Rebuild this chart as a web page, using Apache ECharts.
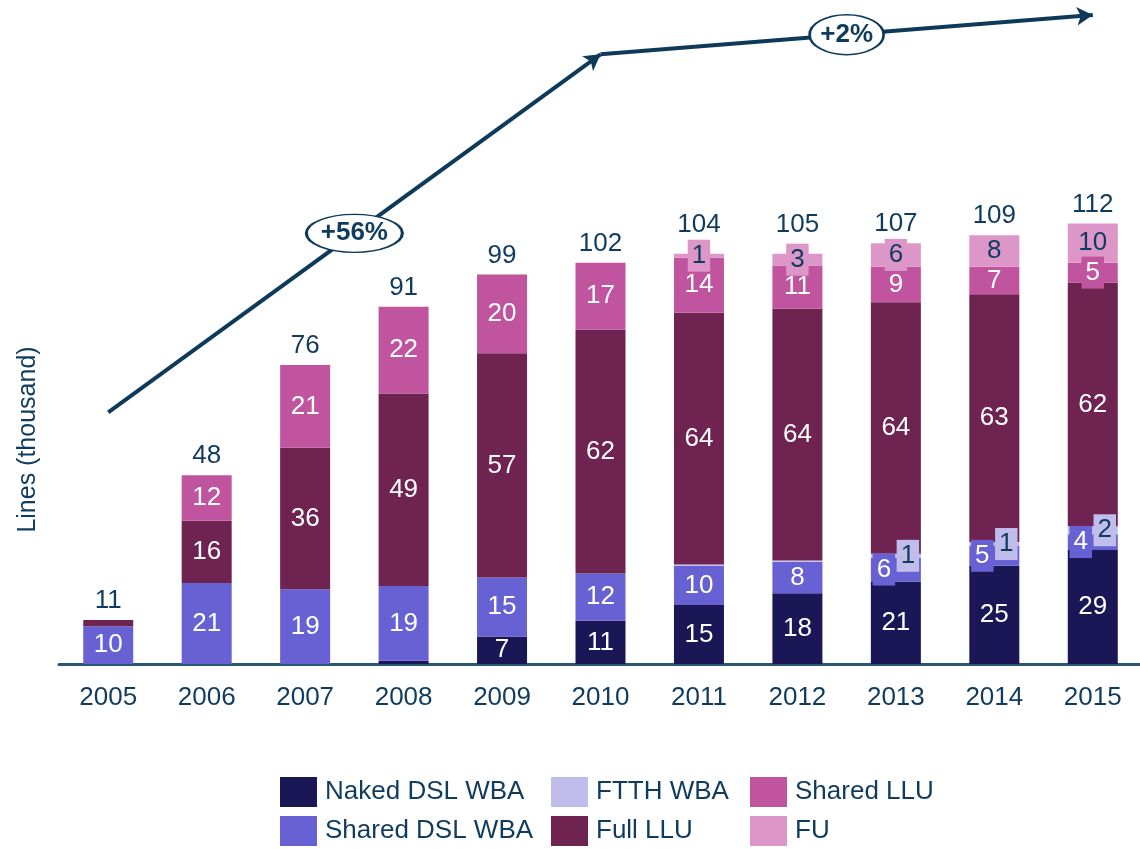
<!DOCTYPE html>
<html>
<head>
<meta charset="utf-8">
<script src="https://cdn.jsdelivr.net/npm/echarts@6/dist/echarts.min.js"></script>
<style>
  html, body { margin: 0; padding: 0; background: #fff; }
  #chart { width: 1140px; height: 849px; }
</style>
</head>
<body>
<div id="chart"></div>
<script>
// values (thousand lines)
const years = ['2005', '2006', '2007', '2008', '2009', '2010', '2011', '2012', '2013', '2014', '2015'];
const nakedDsl = [0, 0, 0, 0.8, 7, 11, 15, 18, 21, 25, 29];
const sharedDsl = [9.6, 20.6, 19, 19, 15, 12, 10, 8, 6, 5, 4];
const ftth = [0, 0, 0, 0, 0, 0, 0.3, 0.3, 1, 1, 2];
const fullLlu = [1.6, 15.8, 36, 49, 57, 62, 64, 64, 64, 63, 62];
const sharedLlu = [0, 11.6, 21, 22, 20, 17, 14, 11, 9, 7, 5];
const fu = [0, 0, 0, 0, 0, 0, 1, 3, 6, 8, 10];
const totals = [11, 48, 76, 91, 99, 102, 104, 105, 107, 109, 112];

// growth arrows (x = year index, y = thousand lines)
const trendX = [0, 5, 10];
const trendY = [64, 155, 165];
const growthX = [2.5, 7.5];
const growthY = [109.5, 160];
const growthText = ['+56%', '+2%'];

const font = 'Liberation Sans, Arial, sans-serif';
const ink = '#0f3b5e';

function barSeries(name, values, color, textColor, minLabel, offsetFn) {
  return {
    name: name,
    type: 'bar',
    stack: 'lines',
    barWidth: 50,
    itemStyle: { color: color },
    label: {
      show: true,
      position: 'inside',
      color: textColor,
      fontSize: 26,
      fontFamily: font,
      formatter: p => String(Math.round(p.value))
    },
    data: values.map((v, i) => {
      const item = { value: v };
      if (v < minLabel) {
        item.label = { show: false };
      } else if (v <= 6) {
        // small segments: the label gets a box in the segment colour
        item.label = { backgroundColor: color, padding: [3, 4] };
        if (offsetFn && offsetFn(i)) item.label.offset = offsetFn(i);
      }
      return item;
    })
  };
}

// where FTTH has its own label, the two small labels sit side by side
const splitLeft = i => (ftth[i] >= 1 ? [-12, 0] : null);
const splitRight = i => (ftth[i] >= 1 ? [12, 0] : null);

const chart = echarts.init(document.getElementById('chart'));

function legendCol(left, names) {
  return {
    orient: 'vertical',
    left: left,
    top: 777,
    padding: 0,
    itemWidth: 37,
    itemHeight: 30,
    itemGap: 9,
    icon: 'rect',
    selectedMode: false,
    data: names,
    textStyle: { color: ink, fontSize: 26, fontFamily: font, lineHeight: 30, padding: [0, 0, 0, 3] }
  };
}

const option = {
  animation: false,
  grid: { left: 59, top: 15, width: 1083, bottom: 185, outerBoundsMode: 'none' },
  legend: [
    legendCol(280, ['Naked DSL WBA', 'Shared DSL WBA']),
    legendCol(551, ['FTTH WBA', 'Full LLU']),
    legendCol(750, ['Shared LLU', 'FU'])
  ],
  xAxis: [
    {
      type: 'category',
      data: years,
      axisLine: { lineStyle: { color: '#2c5670', width: 3 } },
      axisTick: { show: false },
      axisLabel: { color: ink, fontSize: 26, fontFamily: font, margin: 21 }
    },
    { type: 'value', min: -0.5, max: 10.5, show: false }
  ],
  yAxis: {
    type: 'value',
    min: 0,
    max: 165,
    name: 'Lines (thousand)',
    nameLocation: 'middle',
    nameRotate: 90,
    nameGap: 18,
    nameTextStyle: { color: ink, fontSize: 25, fontFamily: font, padding: [0, 200, 0, 0] },
    axisLine: { show: false },
    axisTick: { show: false },
    axisLabel: { show: false },
    splitLine: { show: false }
  },
  series: [
    barSeries('Naked DSL WBA', nakedDsl, '#1b1756', '#ffffff', 3),
    barSeries('Shared DSL WBA', sharedDsl, '#6761d4', '#ffffff', 3, splitLeft),
    barSeries('FTTH WBA', ftth, '#c0bdec', ink, 1, splitRight),
    barSeries('Full LLU', fullLlu, '#6e2350', '#ffffff', 3),
    barSeries('Shared LLU', sharedLlu, '#c0549e', '#ffffff', 3),
    barSeries('FU', fu, '#dc96c8', ink, 1),
    {
      name: 'total',
      type: 'bar',
      stack: 'lines',
      barWidth: 50,
      itemStyle: { color: 'transparent' },
      label: {
        show: true,
        position: 'top',
        distance: 6,
        color: ink,
        fontSize: 26,
        fontFamily: font,
        formatter: p => String(totals[p.dataIndex])
      },
      data: totals.map((t, i) => {
        const item = { value: 0 };
        if (fu[i] >= 1 && fu[i] < 5) item.label = { distance: 16 };
        return item;
      })
    },
    {
      name: 'trend',
      type: 'line',
      xAxisIndex: 1,
      data: [],
      z: 3,
      markLine: {
        silent: true,
        symbol: ['none', 'arrow'],
        symbolSize: [14, 16],
        label: { show: false },
        lineStyle: { color: '#0d3a5a', width: 4, type: 'solid' },
        data: [
          [{ coord: [trendX[0], trendY[0]] }, { coord: [trendX[1], trendY[1]] }],
          [{ coord: [trendX[1], trendY[1]] }, { coord: [trendX[2], trendY[2]] }]
        ]
      }
    },
    {
      name: 'growth',
      type: 'scatter',
      xAxisIndex: 1,
      z: 5,
      symbol: 'path://M0 10 A20 10 0 1 1 40 10 A20 10 0 1 1 0 10 Z',
      itemStyle: { color: '#ffffff', borderColor: '#0d3a5a', borderWidth: 2, opacity: 1 },
      label: {
        show: true,
        position: 'inside',
        color: ink,
        fontSize: 26,
        fontWeight: 'bold',
        fontFamily: font,
        formatter: p => growthText[p.dataIndex]
      },
      data: growthX.map((x, i) => ({
        value: [x, growthY[i]],
        symbolSize: i === 0 ? [96, 38] : [74, 40]
      }))
    }
  ]
};

chart.setOption(option);
</script>
</body>
</html>
